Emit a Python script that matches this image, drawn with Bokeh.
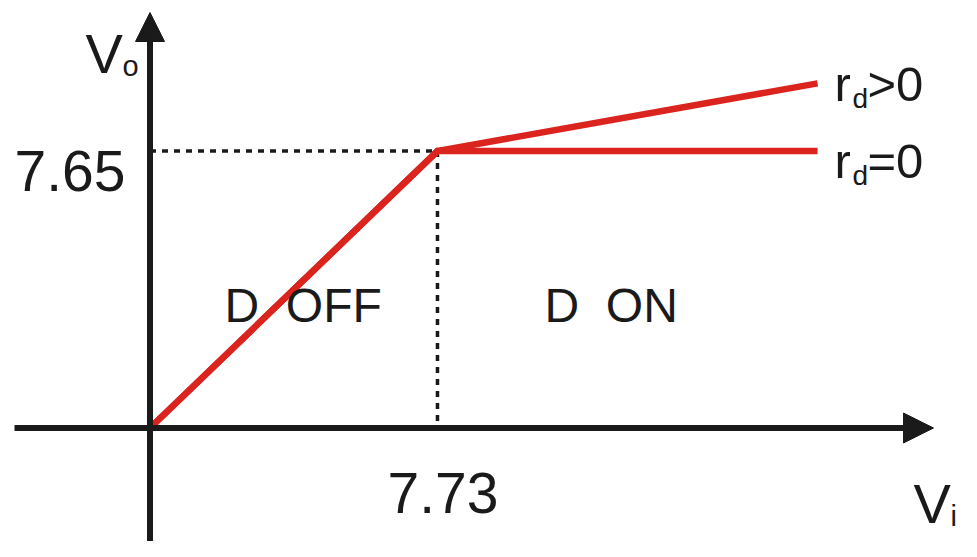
from bokeh.plotting import figure
from bokeh.models import Range1d, Arrow, NormalHead
from bokeh.core.properties import value
from bokeh.embed import file_html
from bokeh.resources import INLINE

# ---- data (volts) ----
VI = [0.0, 7.73, 17.95]          # input voltage breakpoints
VO_RD_ZERO = [0.0, 7.65, 7.65]   # r_d = 0 characteristic
VO_RD_POS = [0.0, 7.65, 9.52]    # r_d > 0 characteristic
VI_KNEE = 7.73
VO_KNEE = 7.65
X_TICK_LABELS = ["7.73"]
Y_TICK_LABELS = ["7.65"]
NB = "\u00a0"
REGION_LABELS = ["D" + NB + NB + "OFF", "D" + NB + NB + "ON"]
CURVE_LABELS_MAIN = ["r", "r"]
CURVE_LABELS_SUB = ["d", "d"]
CURVE_LABELS_TAIL = [">0", "=0"]

# ---- layout helpers: reference pixel -> data ----
OX, OY = 149.5, 427.5
SX, SY = 37.19, 36.2
def dx(px):
    return (px - OX) / SX
def dy(py):
    return (OY - py) / SY

RED = "#dc241f"
INK = "#1a1a1a"
FONT = value("Liberation Sans")

p = figure(width=961, height=541, output_backend="svg", toolbar_location=None,
           x_range=Range1d(dx(0), dx(961)), y_range=Range1d(dy(541), dy(0)),
           x_axis_location=None, y_axis_location=None, min_border=0)
p.grid.visible = False
p.outline_line_color = None
p.background_fill_color = "white"
p.border_fill_color = "white"

# dotted guides
p.line([0, VI_KNEE], [VO_KNEE, VO_KNEE], line_color=INK, line_width=3.5, line_dash="6 6")
p.line([VI_KNEE, VI_KNEE], [VO_KNEE, 0], line_color=INK, line_width=3.5, line_dash="6 6")

# characteristics
p.line(VI, VO_RD_POS, line_color=RED, line_width=6.5, line_join="miter")
p.line(VI, VO_RD_ZERO, line_color=RED, line_width=6.5, line_join="miter")

# axes with arrows
p.add_layout(Arrow(end=NormalHead(size=30, fill_color=INK, line_color=INK, line_width=1),
                   x_start=dx(14), y_start=0, x_end=dx(933), y_end=0,
                   line_color=INK, line_width=6))
p.add_layout(Arrow(end=NormalHead(size=29, fill_color=INK, line_color=INK, line_width=1),
                   x_start=0, y_start=dy(560), x_end=0, y_end=dy(12),
                   line_color=INK, line_width=6))

def txt(x, y, t, size, align="left"):
    p.text(x=[x], y=[y], text=[t], text_font=FONT, text_font_size=value(size),
           text_color=INK, text_align=align, text_baseline="alphabetic")

# tick labels
txt(dx(125), dy(170), Y_TICK_LABELS[0], "57px", "right")
txt(dx(387), dy(492), X_TICK_LABELS[0], "57px")

# axis titles
txt(dx(85), dy(53), "V", "56px")
txt(dx(122), dy(65), "o", "29px")
txt(dx(913), dy(503), "V", "56px")
txt(dx(950), dy(515), "i", "29px")

# region labels
txt(dx(224), dy(305), REGION_LABELS[0], "48px")
txt(dx(544), dy(305), REGION_LABELS[1], "48px")

# curve labels
for base, sub, tail, yb in zip(CURVE_LABELS_MAIN, CURVE_LABELS_SUB, CURVE_LABELS_TAIL, [83, 160]):
    txt(dx(834), dy(yb), base, "49px")
    txt(dx(852), dy(yb + 15), sub, "28px")
    txt(dx(867), dy(yb), tail, "49px")

open("out.html", "w").write(file_html(p, INLINE))
